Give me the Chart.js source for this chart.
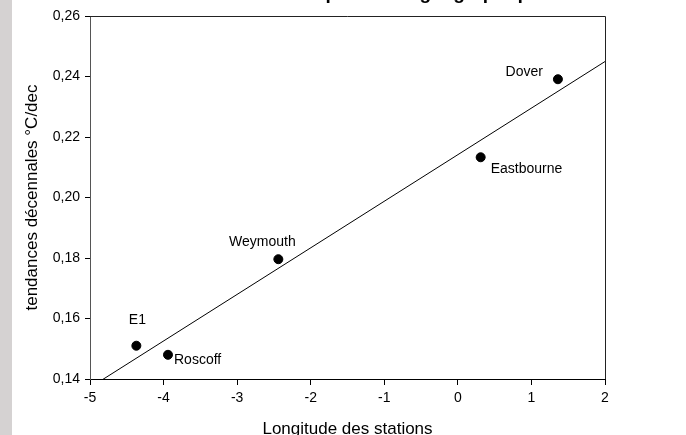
<!DOCTYPE html>
<html lang="fr">
<head>
  <meta charset="UTF-8">
  <title>Tendances et longitude</title>
  <style>
    html, body { margin: 0; padding: 0; background: #fff; }
    #wrap { position: relative; width: 686px; height: 435px; overflow: hidden; }
    #bande { position: absolute; left: 0; top: 0; width: 12px; height: 435px; background: #d5d2d2; }
    #graphique { position: absolute; left: 0; top: 0; }
  </style>
</head>
<body>
  <div id="wrap">
    <div id="bande"></div>
    <canvas id="graphique" width="686" height="435"></canvas>
  </div>

  <script src="https://cdn.jsdelivr.net/npm/chart.js"></script>
  <script>
    // stations et valeurs
    const stations = ["E1", "Roscoff", "Weymouth", "Eastbourne", "Dover"];
    const longitudes = [-4.37, -3.94, -2.44, 0.31, 1.36];
    const tendances = [0.151, 0.148, 0.1796, 0.2133, 0.2391];
    const xTicks = [-5, -4, -3, -2, -1, 0, 1, 2];
    const yTicks = [0.14, 0.16, 0.18, 0.20, 0.22, 0.24, 0.26];
    const titre = "Tendances : dépendance géographique";

    // placement des étiquettes autour des points
    const placement = [
      { dx: 1, dy: -26, align: "center" },
      { dx: 6, dy: 5, align: "left" },
      { dx: -16, dy: -17, align: "center" },
      { dx: 10, dy: 12, align: "left" },
      { dx: -15, dy: -7, align: "right" }
    ];

    const police = "'Liberation Sans', Arial, sans-serif";

    // droite de régression
    function regression(xs, ys) {
      const n = xs.length;
      const mx = xs.reduce((a, b) => a + b, 0) / n;
      const my = ys.reduce((a, b) => a + b, 0) / n;
      let sxy = 0, sxx = 0;
      for (let i = 0; i < n; i++) {
        sxy += (xs[i] - mx) * (ys[i] - my);
        sxx += (xs[i] - mx) * (xs[i] - mx);
      }
      const a = sxy / sxx;
      return { a: a, b: my - a * mx };
    }
    const reg = regression(longitudes, tendances);
    const xMin = xTicks[0], xMax = xTicks[xTicks.length - 1];
    const droite = [
      { x: xMin, y: reg.a * xMin + reg.b },
      { x: xMax, y: reg.a * xMax + reg.b }
    ];

    const cadre = {
      id: "cadre",
      afterDatasetsDraw(chart) {
        const { ctx, chartArea: c } = chart;
        ctx.save();
        ctx.strokeStyle = "#222";
        ctx.lineWidth = 1;
        ctx.beginPath();
        ctx.moveTo(c.left, c.top + 0.5);
        ctx.lineTo(c.right + 0.5, c.top + 0.5);
        ctx.lineTo(c.right + 0.5, c.bottom);
        ctx.stroke();

        // étiquettes des stations
        const meta = chart.getDatasetMeta(1);
        ctx.fillStyle = "#000";
        ctx.font = "14px " + police;
        ctx.textBaseline = "middle";
        meta.data.forEach((pt, i) => {
          const p = placement[i];
          ctx.textAlign = p.align;
          ctx.fillText(stations[i], pt.x + p.dx, pt.y + p.dy);
        });

        // titre coupé en haut de l'image
        ctx.font = "bold 19px " + police;
        ctx.textAlign = "right";
        ctx.textBaseline = "alphabetic";
        ctx.fillText(titre, 545, -1);
        ctx.restore();
      }
    };

    const lienzo = document.querySelector("#graphique");

    new Chart(lienzo, {
      data: {
        datasets: [
          {
            type: "line",
            data: droite,
            borderColor: "#000",
            borderWidth: 1,
            pointRadius: 0,
            fill: false
          },
          {
            type: "scatter",
            data: longitudes.map((x, i) => ({ x: x, y: tendances[i] })),
            backgroundColor: "#000",
            borderColor: "#000",
            pointRadius: 4.5,
            pointHoverRadius: 4.5
          }
        ]
      },
      options: {
        responsive: false,
        animation: false,
        events: [],
        layout: { padding: { left: 0, right: 81, top: 16, bottom: 0 } },
        plugins: {
          legend: { display: false },
          tooltip: { enabled: false }
        },
        scales: {
          x: {
            type: "linear",
            min: xMin,
            max: xMax,
            afterBuildTicks: (s) => { s.ticks = xTicks.map(v => ({ value: v })); },
            afterFit: (s) => { s.height = 56; },
            grid: { display: true, drawOnChartArea: false, drawTicks: true, tickLength: 6, color: "#000" },
            border: { display: true, color: "#000", width: 1 },
            ticks: {
              color: "#000",
              padding: 5,
              font: { family: police, size: 14 },
              callback: (v) => String(v)
            },
            title: {
              display: true,
              text: "Longitude des stations",
              color: "#000",
              font: { family: police, size: 17, lineHeight: 1 },
              padding: { top: 0, bottom: -3 }
            }
          },
          y: {
            type: "linear",
            min: yTicks[0],
            max: yTicks[yTicks.length - 1],
            afterBuildTicks: (s) => { s.ticks = yTicks.map(v => ({ value: v })); },
            afterFit: (s) => { s.width = 90; },
            grid: { display: true, drawOnChartArea: false, drawTicks: true, tickLength: 5, color: "#000" },
            border: { display: true, color: "#555", width: 1 },
            ticks: {
              color: "#000",
              padding: 5,
              font: { family: police, size: 14 },
              callback: (v) => v.toFixed(2).replace(".", ",")
            },
            title: {
              display: true,
              text: "tendances décennales °C/dec",
              color: "#000",
              font: { family: police, size: 17 },
              padding: { top: 22, bottom: 0 }
            }
          }
        }
      },
      plugins: [cadre]
    });
  </script>
</body>
</html>
